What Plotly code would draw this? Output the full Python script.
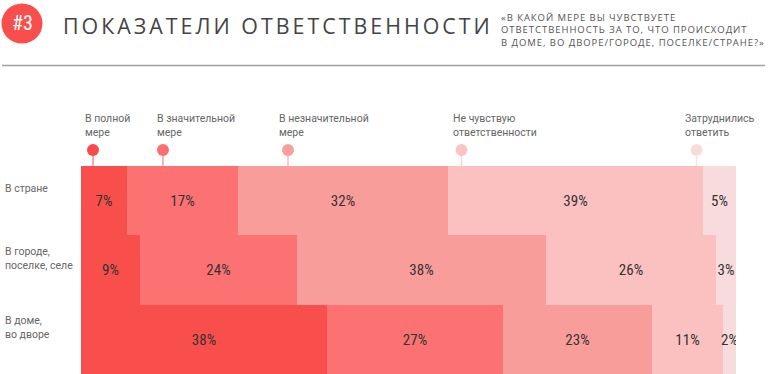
import plotly.graph_objects as go

# ---------------- data ----------------
categories = ["В стране", "В городе, поселке, селе", "В доме, во дворе"]
category_labels = ["В стране", "В городе,<br>поселке, селе", "В доме,<br>во дворе"]
series_names = ["В полной мере", "В значительной мере", "В незначительной мере",
                "Не чувствую ответственности", "Затруднились ответить"]
legend_labels = ["В полной<br>мере", "В значительной<br>мере", "В незначительной<br>мере",
                 "Не чувствую<br>ответственности", "Затруднились<br>ответить"]
full = [7, 9, 38]
significant = [17, 24, 27]
insignificant = [32, 38, 23]
not_responsible = [39, 26, 11]
hard_to_say = [5, 3, 2]
series_values = [full, significant, insignificant, not_responsible, hard_to_say]

title = "ПОКАЗАТЕЛИ ОТВЕТСТВЕННОСТИ"
subtitle = ("«В КАКОЙ МЕРЕ ВЫ ЧУВСТВУЕТЕ<br>ОТВЕТСТВЕННОСТЬ ЗА ТО, ЧТО ПРОИСХОДИТ"
            "<br>В ДОМЕ, ВО ДВОРЕ/ГОРОДЕ, ПОСЕЛКЕ/СТРАНЕ?»")
badge = "#3"

# ---------------- style ----------------
colors = ["#F94F4C", "#FC7272", "#F99D9B", "#FBC0C0", "#F8DCDD"]
dot_colors = ["#F84B4B", "#FA7070", "#F9A09F", "#FBC3C3", "#F8DCDC"]
stem_colors = ["#FB8A89", "#FB9D9D", "#FBBDBC", "#FBD3D3", "#F8E4E4"]
W, H = 771, 374
L, R, T, B = 81, 35, 166, 0
PW, PH = W - L - R, H - T - B

def px(x):
    return (x - L) / PW

def py(y):
    return 1 + (T - y) / PH

num_font = "Roboto Condensed, Liberation Sans Narrow, Roboto, sans-serif"
lab_font = "Roboto, Inter, Noto Sans, sans-serif"

def cond(s):
    return f'<span style="font-stretch:condensed">{s}</span>'

fig = go.Figure()
for name, vals, col in zip(series_names, series_values, colors):
    fig.add_trace(go.Bar(
        y=categories, x=vals, name=name, orientation="h",
        marker=dict(color=col, line=dict(width=0)),
        text=[cond(f"{v}%") for v in vals], textposition="inside",
        insidetextanchor="middle", textangle=0,
        textfont=dict(family=num_font, size=15, color="#333333"),
        hoverinfo="x+name",
    ))

fig.update_layout(
    width=W, height=H, barmode="stack", barnorm="percent", bargap=0,
    margin=dict(l=L, r=R, t=T, b=B, pad=0),
    plot_bgcolor="white", paper_bgcolor="white", showlegend=False,
    uniformtext=dict(mode="show", minsize=15),
    xaxis=dict(visible=False, range=[0, 100], fixedrange=True),
    yaxis=dict(visible=False, autorange="reversed", fixedrange=True),
)

ann = []
shapes = []

# category labels
for cat, lab in zip(categories, category_labels):
    ann.append(dict(xref="paper", yref="y", x=px(3), y=cat, text=lab, showarrow=False,
                    xanchor="left", yanchor="middle", align="left", yshift=12,
                    font=dict(family=lab_font, size=10.5, color="#666666")))

# legend: labels, dots, stems
label_x = [83, 155, 277, 451, 683]
dot_x = [93, 163, 288, 461.5, 696.5]
for lab, lx, dx, dc, sc in zip(legend_labels, label_x, dot_x, dot_colors, stem_colors):
    ann.append(dict(xref="paper", yref="paper", x=px(lx), y=py(110), text=lab,
                    showarrow=False, xanchor="left", yanchor="top", align="left",
                    font=dict(family=lab_font, size=10.5, color="#666666")))
    shapes.append(dict(type="line", xref="paper", yref="paper", x0=px(dx), x1=px(dx),
                       y0=py(152), y1=py(166), line=dict(color=sc, width=1.5)))
    shapes.append(dict(type="circle", xref="paper", yref="paper", xsizemode="pixel",
                       ysizemode="pixel", xanchor=px(dx), yanchor=py(150),
                       x0=-6, x1=6, y0=-6, y1=6, fillcolor=dc, line=dict(width=0)))

# header
shapes.append(dict(type="circle", xref="paper", yref="paper", xsizemode="pixel",
                   ysizemode="pixel", xanchor=px(22), yanchor=py(23.5),
                   x0=-20.5, x1=20.5, y0=-20, y1=20, fillcolor="#F94F4C", line=dict(width=0)))
ann.append(dict(xref="paper", yref="paper", x=px(22), y=py(23), text=cond(badge), showarrow=False,
                xanchor="center", yanchor="middle",
                font=dict(family=num_font, size=20, color="white")))
ann.append(dict(xref="paper", yref="paper", x=px(61), y=py(25.5),
                text=f'<span style="letter-spacing:3px">{title}</span>', showarrow=False,
                xanchor="left", yanchor="middle",
                font=dict(family="Open Sans, DejaVu Sans, sans-serif", size=21.4, color="#444444")))
ann.append(dict(xref="paper", yref="paper", x=px(499), y=py(9), text=
                f'<span style="letter-spacing:0.95px">{subtitle}</span>', showarrow=False,
                xanchor="left", yanchor="top", align="left",
                font=dict(family="Open Sans, DejaVu Sans, sans-serif", size=9.5, color="#555555")))
shapes.append(dict(type="line", xref="paper", yref="paper", x0=px(2), x1=px(765),
                   y0=py(65.5), y1=py(65.5), line=dict(color="#A0A0A0", width=1.5)))

fig.update_layout(annotations=ann, shapes=shapes)
fig.write_html("out.html", config={"displayModeBar": False},
               post_script="document.body.style.margin='0';")
